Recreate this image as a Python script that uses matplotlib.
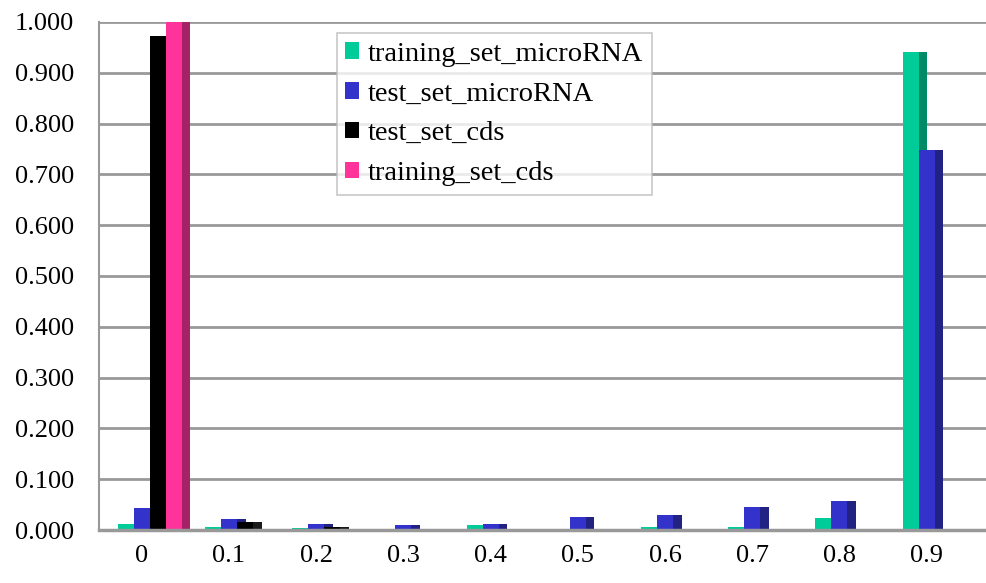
import matplotlib
matplotlib.use("Agg")
import matplotlib.pyplot as plt
from matplotlib.patches import Patch

categories = ["0", "0.1", "0.2", "0.3", "0.4", "0.5", "0.6", "0.7", "0.8", "0.9"]
training_set_microRNA = [0.012, 0.006, 0.004, 0.0, 0.009, 0.0, 0.005, 0.005, 0.023, 0.941]
test_set_microRNA = [0.043, 0.022, 0.011, 0.009, 0.011, 0.025, 0.029, 0.046, 0.057, 0.748]
test_set_cds = [0.972, 0.015, 0.005, 0.001, 0.002, 0.0, 0.0, 0.0, 0.0, 0.0]
training_set_cds = [1.000, 0.0, 0.0, 0.0, 0.0, 0.0, 0.0, 0.0, 0.0, 0.0]
y_ticks = [0.0, 0.1, 0.2, 0.3, 0.4, 0.5, 0.6, 0.7, 0.8, 0.9, 1.0]

series = [
    ("training_set_microRNA", training_set_microRNA, "#00CC99", "#008A66"),
    ("test_set_microRNA", test_set_microRNA, "#3333CC", "#222283"),
    ("test_set_cds", test_set_cds, "#000000", "#1a1a1a"),
    ("training_set_cds", training_set_cds, "#FF3399", "#A62266"),
]

plt.rcParams["font.family"] = ["Liberation Serif", "DejaVu Serif"]

fig = plt.figure(figsize=(9.86, 5.83), dpi=100)
ax = fig.add_axes([0.1004, 0.0909, 0.8996, 0.8714])

bar_w = 0.183
side_w = 0.10
start = -0.275
x = range(len(categories))

for k, (name, vals, front, side) in enumerate(series):
    lefts = [i + start + k * bar_w for i in x]
    ax.bar([l + bar_w for l in lefts], vals, width=side_w, align="edge",
           color=side, linewidth=0, zorder=3)
    ax.bar(lefts, vals, width=bar_w, align="edge",
           color=front, linewidth=0, zorder=3)

ax.set_xlim(-0.49, 9.68)
ax.set_ylim(0, 1.0)
ax.set_yticks(y_ticks)
ax.set_yticklabels([f"{v:.3f}" for v in y_ticks], fontsize=19)
ax.set_xticks(list(x))
ax.set_xticklabels(categories, fontsize=19)
ax.tick_params(axis="both", length=0)
ax.tick_params(axis="y", pad=18)
ax.tick_params(axis="x", pad=11)

ax.grid(axis="y", color="#999999", linewidth=2, zorder=1)
for s in ["top", "right", "bottom"]:
    ax.spines[s].set_visible(False)
ax.spines["left"].set_color("#999999")
ax.spines["left"].set_linewidth(1.5)
ax.axhline(0, color="#999999", linewidth=2.5, zorder=4, clip_on=False)

handles = [Patch(facecolor=f, edgecolor="none", label=n) for n, _, f, _ in series]
leg = ax.legend(handles=handles, loc="upper left", bbox_to_anchor=(0.268, 0.978),
                borderaxespad=0, fontsize=20.5, frameon=True, fancybox=False,
                handlelength=0.5, handleheight=0.5, handletextpad=0.3,
                labelspacing=0.52, borderpad=0.3)
leg.get_frame().set_edgecolor("#bbbbbb")
leg.get_frame().set_linewidth(1.2)
leg.set_zorder(5)

fig.savefig("out.png", dpi=100)
